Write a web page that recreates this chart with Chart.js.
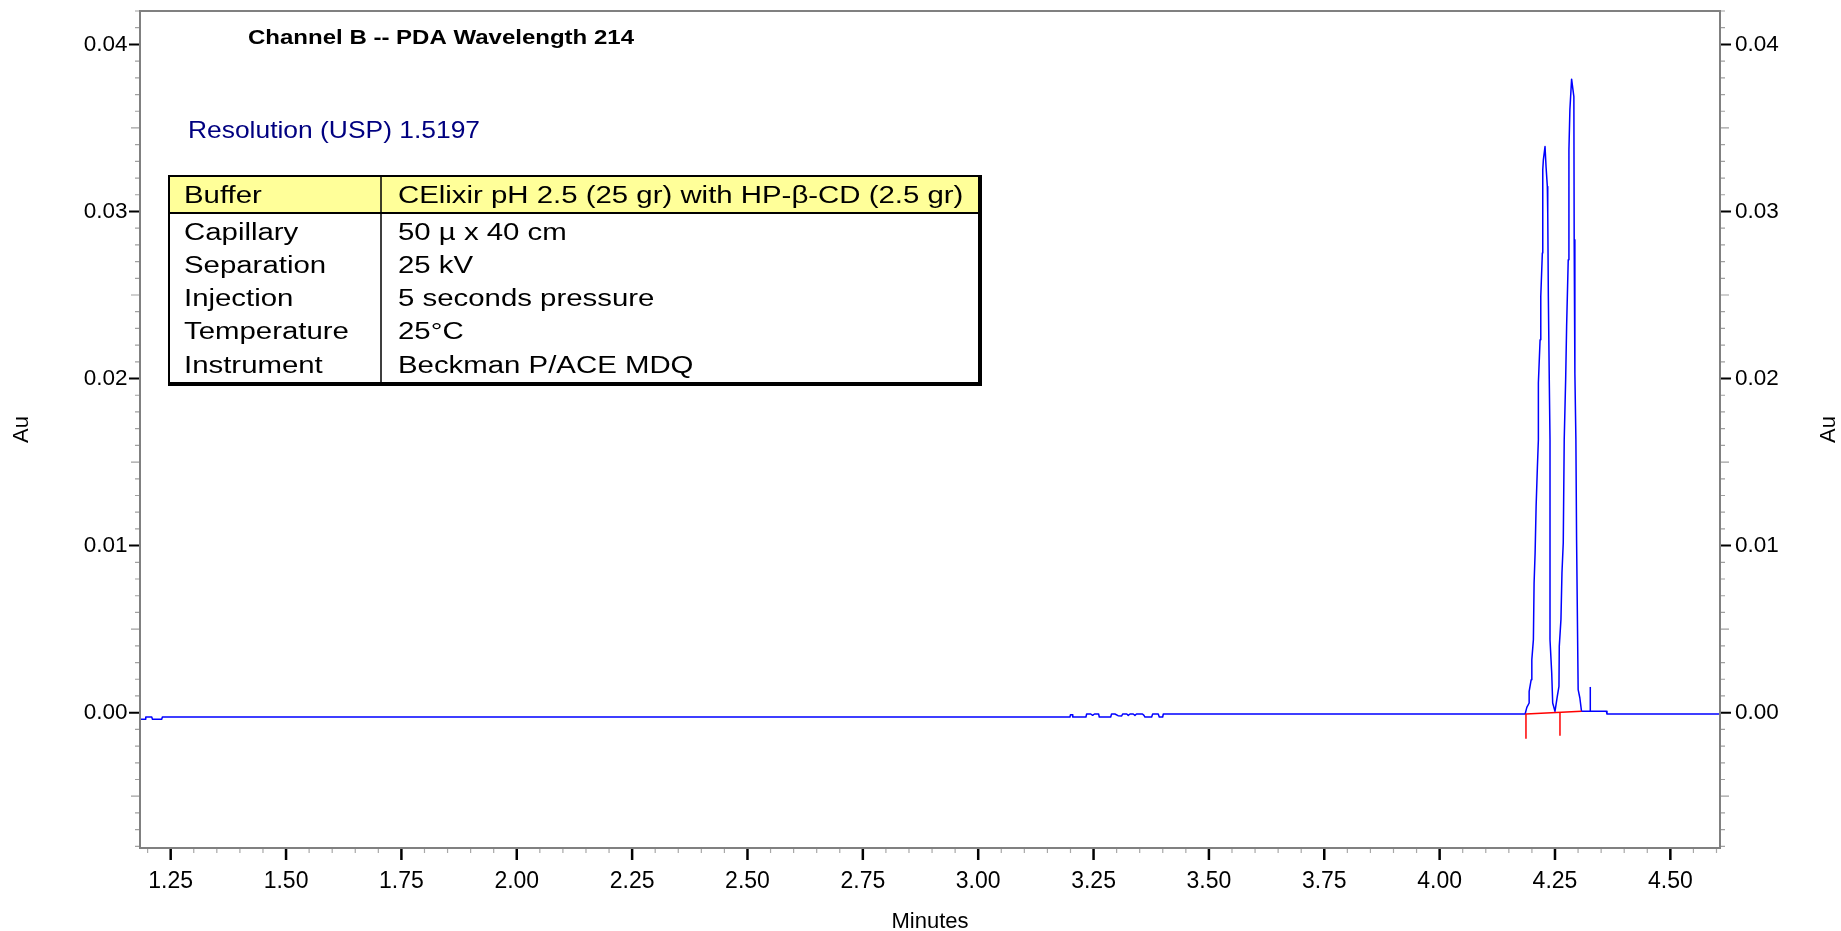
<!DOCTYPE html>
<html><head><meta charset="utf-8">
<script src="https://cdn.jsdelivr.net/npm/chart.js@4.4.1/dist/chart.umd.min.js"></script>
<style>html,body{margin:0;padding:0;background:#fff;overflow:hidden}canvas{display:block}</style>
</head><body>
<canvas id="c" width="1841" height="931" style="width:1841px;height:931px"></canvas>
<script>
// ---- data ----
const traceTime = [1.1835, 1.1945, 1.1960, 1.2090, 1.2105, 1.2305, 1.2320, 3.1989, 3.2000, 3.2040, 3.2050, 3.2335, 3.2350, 3.2440, 3.2480, 3.2520, 3.2610, 3.2624, 3.2871, 3.2890, 3.2963, 3.3030, 3.3109, 3.3130, 3.3220, 3.3252, 3.3290, 3.3360, 3.3397, 3.3430, 3.3560, 3.3592, 3.3614, 3.3759, 3.3781, 3.3902, 3.3924, 3.3998, 3.4011,
  4.1853, 4.1890, 4.1940, 4.1940, 4.1983, 4.1998, 4.2032, 4.2047, 4.2069, 4.2091, 4.2119, 4.2140, 4.2140, 4.2177, 4.2192, 4.2226, 4.2235, 4.2248, 4.2284, 4.2306, 4.2334, 4.2343, 4.2356, 4.2377, 4.2392, 4.2392, 4.2429, 4.2450, 4.2500,
  4.2550, 4.2586, 4.2593, 4.2629, 4.2651, 4.2679, 4.2700, 4.2731, 4.2752, 4.2787, 4.2802, 4.2823, 4.2860, 4.2909, 4.2916, 4.2931, 4.2953, 4.2968, 4.3002, 4.3039, 4.3075, 4.3614, 4.3627, 4.6076];
const traceAu = [-0.00040, -0.00040, -0.00026, -0.00026, -0.00040, -0.00040, -0.00026, -0.00026, -0.00012, -0.00012, -0.00026, -0.00026, -0.00008, -0.00008, -0.00016, -0.00008, -0.00008, -0.00026, -0.00026, -0.00008, -0.00008, -0.00018, -0.00020, -0.00008, -0.00008, -0.00016, -0.00008, -0.00008, -0.00016, -0.00008, -0.00008, -0.00016, -0.00026, -0.00026, -0.00008, -0.00008, -0.00026, -0.00026, -0.00008,
  -0.00008, 0.00032, 0.00058, 0.00127, 0.00197, 0.00317, 0.00437, 0.00776, 0.00956, 0.01235, 0.01474, 0.01634, 0.01973, 0.02232, 0.02491, 0.02751, 0.03250, 0.03309, 0.03389, 0.03269, 0.03150, 0.02990, 0.02491, 0.01973, 0.01634, 0.00437, 0.00238, 0.00058, 0.00008,
  0.00098, 0.00157, 0.00397, 0.00557, 0.00836, 0.01016, 0.01634, 0.01993, 0.02312, 0.02711, 0.03370, 0.03609, 0.03792, 0.03688, 0.02831, 0.02033, 0.01634, 0.01034, 0.00138, 0.00088, 0.00008, 0.00008, -0.00008, -0.00008];
const integBaseTime = [4.1871, 4.1871, 4.3075];
const integBaseAu = [-0.00156, -0.00008, 0.00008];
const integDropTime = [4.2608, 4.2608];
const integDropAu = [-0.00138, 0.00002];
const peakMarkTime = [4.3265, 4.3265];
const peakMarkAu = [0.00008, 0.00154];
const xTickValues = [1.25, 1.50, 1.75, 2.00, 2.25, 2.50, 2.75, 3.00, 3.25, 3.50, 3.75, 4.00, 4.25, 4.50];
const xTickLabels = ['1.25', '1.50', '1.75', '2.00', '2.25', '2.50', '2.75', '3.00', '3.25', '3.50', '3.75', '4.00', '4.25', '4.50'];
const yTickValues = [0.00, 0.01, 0.02, 0.03, 0.04];
const yTickLabels = ['0.00', '0.01', '0.02', '0.03', '0.04'];
const xRange = [1.1835, 4.6076];
const yRange = [-0.0081, 0.0420];
const chartTitle = 'Channel B -- PDA Wavelength 214';
const resolutionText = 'Resolution (USP) 1.5197';
const xAxisTitle = 'Minutes';
const yAxisTitle = 'Au';
const tableLabels = ['Buffer', 'Capillary', 'Separation', 'Injection', 'Temperature', 'Instrument'];
const tableValues = ['CElixir pH 2.5 (25 gr) with HP-\u03B2-CD (2.5 gr)', '50 \u00B5 x 40 cm', '25 kV', '5 seconds pressure', '25\u00B0C', 'Beckman P/ACE MDQ'];

const pts = (xs, ys) => xs.map((x, i) => ({x: x, y: ys[i]}));
const FONT = '"Liberation Sans", Arial, sans-serif';

function drawText(ctx, s, x, capY, size, weight, color, sx, align) {
  ctx.save();
  ctx.font = weight + ' ' + size + 'px ' + FONT;
  ctx.fillStyle = color;
  ctx.textBaseline = 'alphabetic';
  ctx.textAlign = align || 'left';
  ctx.translate(x, capY + size * 0.716 / 2);
  ctx.scale(sx, 1);
  ctx.fillText(s, 0, 0);
  ctx.restore();
}
function drawTextW(ctx, s, x, capY, size, weight, color, targetW) {
  ctx.save();
  ctx.font = weight + ' ' + size + 'px ' + FONT;
  const w = ctx.measureText(s).width;
  ctx.restore();
  drawText(ctx, s, x, capY, size, weight, color, targetW / w);
}
function noPad(s) { s.paddingTop = 0; s.paddingBottom = 0; s.paddingLeft = 0; s.paddingRight = 0; }

const deco = {
  id: 'deco',
  afterDraw(chart) {
    const ctx = chart.ctx, ca = chart.chartArea;
    const xs = chart.scales.x, yl = chart.scales.y;
    ctx.save();
    const i0 = Math.ceil(xs.min / 0.05 - 1e-6), i1 = Math.floor(xs.max / 0.05 + 1e-6);
    for (let i = i0; i <= i1; i++) {
      const v = i * 0.05, px = xs.getPixelForValue(v);
      const major = i % 5 === 0;
      ctx.beginPath();
      ctx.strokeStyle = major ? '#000' : '#a8a8a8';
      ctx.lineWidth = major ? 2.5 : 1.2;
      ctx.moveTo(px, ca.bottom);
      ctx.lineTo(px, ca.bottom + (major ? 12 : 5));
      ctx.stroke();
    }
    const j0 = Math.ceil(yl.min / 0.001 - 1e-6), j1 = Math.floor(yl.max / 0.001 + 1e-6);
    for (let j = j0; j <= j1; j++) {
      const py = yl.getPixelForValue(j * 0.001);
      const major = j % 10 === 0, mid = j % 5 === 0;
      const len = major ? 11 : (mid ? 9 : 5);
      ctx.strokeStyle = major ? '#000' : '#a0a0a0';
      ctx.lineWidth = major ? 2 : 1.2;
      ctx.beginPath();
      ctx.moveTo(ca.left, py); ctx.lineTo(ca.left - len, py);
      ctx.moveTo(ca.right, py); ctx.lineTo(ca.right + len, py);
      ctx.stroke();
    }
    ctx.strokeStyle = '#808080';
    ctx.lineWidth = 2;
    ctx.strokeRect(ca.left, ca.top, ca.right - ca.left, ca.bottom - ca.top);
    ctx.restore();

    ctx.save();
    ctx.translate(1829, (ca.top + ca.bottom) / 2);
    ctx.rotate(-Math.PI / 2);
    ctx.font = '22px ' + FONT;
    ctx.fillStyle = '#000';
    ctx.textAlign = 'center';
    ctx.textBaseline = 'middle';
    ctx.fillText(yAxisTitle, 0, 0);
    ctx.restore();

    drawTextW(ctx, chartTitle, 248, 36, 21, 'bold', '#000', 386);
    drawTextW(ctx, resolutionText, 188, 129, 24, 'normal', '#000080', 292);

    const tl = 169, tt = 176, tr = 979, tb = 383, hb = 213, div = 381;
    ctx.save();
    ctx.fillStyle = '#fff';
    ctx.fillRect(tl, tt, tr - tl, tb - tt);
    ctx.fillStyle = '#ffff99';
    ctx.fillRect(tl, tt, tr - tl, hb - tt);
    ctx.fillStyle = '#000';
    ctx.fillRect(tl - 1, tt - 1, tr - tl + 2, 2);
    ctx.fillRect(tl - 1, tt - 1, 2, tb - tt + 2);
    ctx.fillRect(tr - 1, tt - 1, 4, tb - tt + 4);
    ctx.fillRect(tl - 1, tb - 1, tr - tl + 4, 4);
    ctx.fillRect(tl, hb - 1, tr - tl, 2);
    ctx.fillRect(div - 0.75, tt, 1.5, tb - tt);
    ctx.restore();
    const rowY = [195, 232, 265, 298, 331, 365];
    for (let r = 0; r < tableLabels.length; r++) {
      drawText(ctx, tableLabels[r], 184, rowY[r], 23.5, 'normal', '#000', 1.25);
      drawText(ctx, tableValues[r], 398, rowY[r], 23.5, 'normal', '#000', 1.25);
    }
  }
};

const lineDs = (label, xs, ys, color, order) => ({
  label: label, data: pts(xs, ys), borderColor: color, backgroundColor: color,
  borderWidth: 1.5, pointRadius: 0, tension: 0, fill: false, order: order,
  borderJoinStyle: 'round'
});

new Chart(document.getElementById('c').getContext('2d'), {
  type: 'line',
  data: {
    datasets: [
      lineDs('PDA 214', traceTime, traceAu, '#0000ff', 3),
      lineDs('Integration baseline', integBaseTime, integBaseAu, '#ff0000', 1),
      lineDs('Peak split', integDropTime, integDropAu, '#ff0000', 1),
      lineDs('Peak end', peakMarkTime, peakMarkAu, '#0000ff', 2)
    ]
  },
  options: {
    responsive: false,
    animation: false,
    devicePixelRatio: 1,
    layout: {padding: {top: 11, left: 0, right: 0, bottom: 0}},
    plugins: {legend: {display: false}, tooltip: {enabled: false}, title: {display: false}},
    scales: {
      x: {
        type: 'linear', position: 'bottom', min: xRange[0], max: xRange[1],
        afterFit: s => { s.height = 83; noPad(s); },
        afterBuildTicks: s => { s.ticks = xTickValues.map(v => ({value: v})); },
        grid: {display: false, drawTicks: false},
        border: {display: false},
        ticks: {autoSkip: false, maxRotation: 0, padding: 20, color: '#000',
          font: {family: FONT, size: 23}, callback: (v, i) => xTickLabels[i]},
        title: {display: true, text: xAxisTitle, color: '#000', padding: {top: 0, bottom: 0},
          font: {family: FONT, size: 22, lineHeight: 0.85}}
      },
      y: {
        type: 'linear', position: 'left', min: yRange[0], max: yRange[1],
        afterFit: s => { s.width = 140; noPad(s); },
        afterBuildTicks: s => { s.ticks = yTickValues.map(v => ({value: v})); },
        grid: {display: false, drawTicks: false},
        border: {display: false},
        ticks: {padding: 12.5, color: '#000', font: {family: FONT, size: 22.5},
          callback: (v, i) => yTickLabels[i]},
        title: {display: true, text: yAxisTitle, color: '#000', padding: {top: 13, bottom: 0},
          font: {family: FONT, size: 22, lineHeight: 0.85}}
      },
      y2: {
        type: 'linear', position: 'right', min: yRange[0], max: yRange[1],
        afterFit: s => { s.width = 121; noPad(s); },
        afterBuildTicks: s => { s.ticks = yTickValues.map(v => ({value: v})); },
        grid: {display: false, drawTicks: false},
        border: {display: false},
        ticks: {padding: 15, color: '#000', font: {family: FONT, size: 22.5},
          callback: (v, i) => yTickLabels[i]}
      }
    }
  },
  plugins: [deco]
});
</script>
</body></html>
